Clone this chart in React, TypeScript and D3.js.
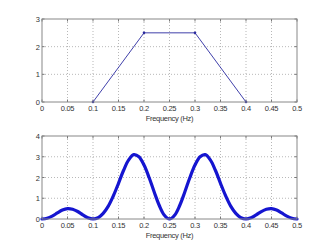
import React from "react";
import * as d3 from "d3";

const xTicks = [0, 0.05, 0.1, 0.15, 0.2, 0.25, 0.3, 0.35, 0.4, 0.45, 0.5];
const xTickLabels = ["0", "0.05", "0.1", "0.15", "0.2", "0.25", "0.3", "0.35", "0.4", "0.45", "0.5"];
const topYTicks = [0, 1, 2, 3];
const bottomYTicks = [0, 1, 2, 3, 4];

const topFreq = [0.1, 0.2, 0.3, 0.4];
const topValues = [0, 2.5, 2.5, 0];

const bottomFreq = [
  0, 0.01, 0.02, 0.03, 0.04, 0.05, 0.06, 0.07, 0.08, 0.09, 0.1,
  0.11, 0.12, 0.13, 0.14, 0.15, 0.16, 0.17, 0.18, 0.19, 0.2,
  0.21, 0.22, 0.23, 0.24, 0.25, 0.26, 0.27, 0.28, 0.29, 0.3,
  0.31, 0.32, 0.33, 0.34, 0.35, 0.36, 0.37, 0.38, 0.39, 0.4,
  0.41, 0.42, 0.43, 0.44, 0.45, 0.46, 0.47, 0.48, 0.49, 0.5,
];
const bottomValues = [
  0, 0.04, 0.14, 0.29, 0.43, 0.5, 0.47, 0.36, 0.2, 0.06, 0,
  0.06, 0.27, 0.62, 1.12, 1.72, 2.35, 2.85, 3.1, 3.0, 2.6,
  2.0, 1.3, 0.65, 0.18, 0, 0.18, 0.65, 1.3, 2.0, 2.6,
  3.0, 3.1, 2.85, 2.35, 1.72, 1.12, 0.62, 0.27, 0.06, 0,
  0.06, 0.2, 0.36, 0.47, 0.5, 0.43, 0.29, 0.14, 0.04, 0,
];

const left = 42;
const right = 297;
const font = "Arial, 'Liberation Sans', sans-serif";
const fs = 7.5;
const ls = -0.3;

function Panel({ top, bottom, yTicks, yMax, xs, ys, color, width, smooth }: any) {
  const x = d3.scaleLinear().domain([0, 0.5]).range([left, right]);
  const y = d3.scaleLinear().domain([0, yMax]).range([bottom, top]);
  const pts = xs.map((v: number, i: number) => [v, ys[i]] as [number, number]);
  const line = d3
    .line<[number, number]>()
    .x((d) => x(d[0]))
    .y((d) => y(d[1]))
    .curve(smooth ? d3.curveCatmullRom : d3.curveLinear);
  return (
    <g>
      <rect x={left} y={top} width={right - left} height={bottom - top} fill="#fff" />
      {xTicks.slice(1, -1).map((t) => (
        <line key={"gx" + t} x1={x(t)} x2={x(t)} y1={top} y2={bottom} stroke="#999" strokeWidth={0.7} strokeDasharray="1,2" />
      ))}
      {yTicks.slice(1, -1).map((t: number) => (
        <line key={"gy" + t} x1={left} x2={right} y1={y(t)} y2={y(t)} stroke="#999" strokeWidth={0.7} strokeDasharray="1,2" />
      ))}
      {xTicks.map((t) => (
        <g key={"tx" + t}>
          <line x1={x(t)} x2={x(t)} y1={bottom} y2={bottom - 2.5} stroke="#777" />
          <line x1={x(t)} x2={x(t)} y1={top} y2={top + 2.5} stroke="#777" />
        </g>
      ))}
      {yTicks.map((t: number) => (
        <g key={"ty" + t}>
          <line x1={left} x2={left + 2.5} y1={y(t)} y2={y(t)} stroke="#777" />
          <line x1={right} x2={right - 2.5} y1={y(t)} y2={y(t)} stroke="#777" />
        </g>
      ))}
      <path d={line(pts) || ""} fill="none" stroke={color} strokeWidth={width} strokeLinejoin="round" strokeLinecap="round" />
      {!smooth &&
        pts.map((p: [number, number], i: number) => (
          <circle key={"m" + i} cx={x(p[0])} cy={y(p[1])} r={1.3} fill={color} />
        ))}
      <rect x={left} y={top} width={right - left} height={bottom - top} fill="none" stroke="#888" strokeWidth={1} />
      {xTicks.map((t, i) => (
        <text key={"lx" + t} x={x(t)} y={bottom + 9} textAnchor="middle" fontSize={fs} letterSpacing={ls} fill="#333" fontFamily={font}>
          {xTickLabels[i]}
        </text>
      ))}
      {yTicks.map((t: number) => (
        <text key={"ly" + t} x={left - 2} y={y(t) + 3} textAnchor="end" fontSize={fs} fill="#333" fontFamily={font}>
          {t}
        </text>
      ))}
      <text x={(left + right) / 2} y={bottom + 19} textAnchor="middle" fontSize={fs} letterSpacing={ls} fill="#333" fontFamily={font}>
        Frequency (Hz)
      </text>
    </g>
  );
}

export default function App() {
  return (
    <svg width={328} height={247} style={{ position: "absolute", left: 0, top: 0, background: "#fff" }}>
      <rect width={328} height={247} fill="#fff" />
      <Panel top={19} bottom={102} yTicks={topYTicks} yMax={3} xs={topFreq} ys={topValues} color="#2a2aa0" width={0.9} smooth={false} />
      <Panel top={136} bottom={219} yTicks={bottomYTicks} yMax={4} xs={bottomFreq} ys={bottomValues} color="#1515d0" width={3.2} smooth={true} />
    </svg>
  );
}
